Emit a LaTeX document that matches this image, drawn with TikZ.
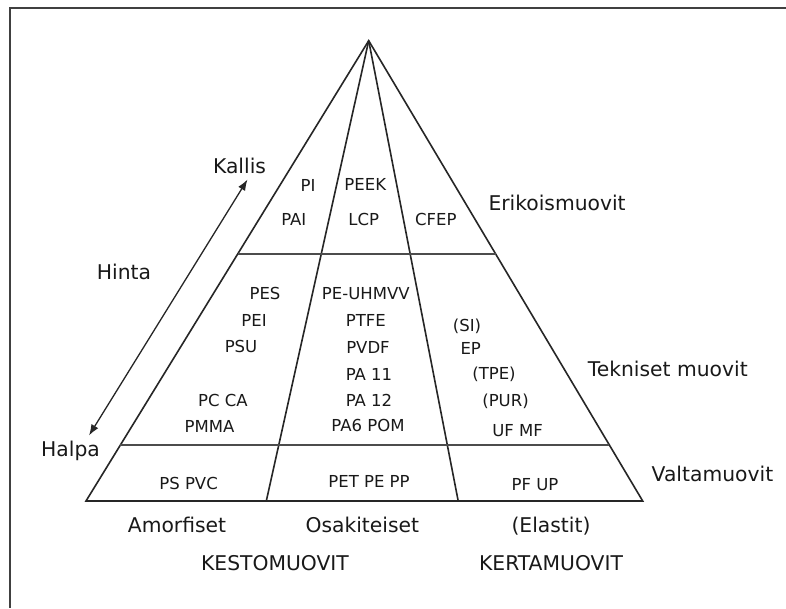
\documentclass[tikz,border=0pt]{standalone}
\usepackage{fontspec}
\setmainfont{DejaVu Sans}
\usetikzlibrary{calc,arrows.meta}
\begin{document}
\begin{tikzpicture}[x=1pt,y=-1pt,
  edge/.style={line width=1.6pt, draw=black!85},
  sep/.style={line width=1.8pt, draw=black!70},
  small/.style={font=\fontsize{16.5}{19}\selectfont, text=black!90, inner sep=0pt, anchor=base},
  big/.style={font=\fontsize{20.3}{24}\selectfont, text=black!90, inner sep=0pt, anchor=base},
  bigl/.style={big, anchor=base west},
]
\useasboundingbox (0,0) rectangle (786,608);
\fill[white] (0,0) rectangle (786,608);
\draw[line width=2.2pt, black!75] (786,8) -- (10,8) -- (10,608);

% pyramid geometry
\coordinate (A) at (368.7,40.7);
\coordinate (BL) at (86,501);
\coordinate (BR) at (642.7,501);
\coordinate (D1) at (266.3,501);
\coordinate (D2) at (458.2,501);
\coordinate (L1) at ($(A)!0.4634!(BL)$);
\coordinate (R1) at ($(A)!0.4634!(BR)$);
\coordinate (L2) at ($(A)!0.8783!(BL)$);
\coordinate (R2) at ($(A)!0.8783!(BR)$);

\draw[edge, line join=miter] (BL) -- (A) -- (BR) -- cycle;
\draw[edge] (A) -- (D1);
\draw[edge] (A) -- (D2);
\draw[sep] (L1) -- (R1);
\draw[sep] (L2) -- (R2);

% price arrow
\coordinate (P1) at (247.5,179.5);
\coordinate (P2) at (89,435.5);
\draw[line width=1.3pt, black!85, {Latex[length=11pt,width=8pt]}-{Latex[length=11pt,width=8pt]}] (P2) -- (P1);

% side labels
\node[big] (kallis) at (239.5,173.3) {Kallis};
\node[big] (hinta) at (124,279.5) {Hinta};
\node[big] (halpa) at (70.5,456.7) {Halpa};
\node[bigl] (eriko) at (488.3,210) {Erikoismuovit};
\node[bigl] (tekn) at (587.7,376) {Tekniset muovit};
\node[bigl] (valta) at (651.5,481) {Valtamuovit};

% bottom labels
\node[big] (amorf) at (177,532) {Amorfiset};
\node[big] (osak) at (362.3,532) {Osakiteiset};
\node[big] (elast) at (551,532) {(Elastit)};
\node[big] (kesto) at (275,570) {KESTOMUOVIT};
\node[big] (kerta) at (551,570) {KERTAMUOVIT};

% top section
\node[small] (pi) at (308,191) {PI};
\node[small] (peek) at (365.3,190.3) {PEEK};
\node[small] (pai) at (293.8,225.3) {PAI};
\node[small] (lcp) at (363.8,225.3) {LCP};
\node[small] (cfep) at (435.8,225.3) {CFEP};

% middle section
\node[small] (pes) at (265,299) {PES};
\node[small] (pei) at (254,326) {PEI};
\node[small] (psu) at (241,352.7) {PSU};
\node[small] (pcca) at (223,406.7) {PC CA};
\node[small] (pmma) at (209.6,432.7) {PMMA};
\node[small] (peuh) at (365.8,299) {PE-UHMVV};
\node[small] (ptfe) at (365.8,326.7) {PTFE};
\node[small] (pvdf) at (368,353) {PVDF};
\node[small] (pa11) at (369,380) {PA 11};
\node[small] (pa12) at (369,406) {PA 12};
\node[small] (pa6) at (368,431) {PA6 POM};
\node[small] (si) at (467,331) {(SI)};
\node[small] (ep) at (470.7,354) {EP};
\node[small] (tpe) at (494,379) {(TPE)};
\node[small] (pur) at (505.5,406.5) {(PUR)};
\node[small] (ufmf) at (517.6,436) {UF MF};

% bottom section
\node[small] (pspvc) at (188.6,489) {PS PVC};
\node[small] (petpe) at (369,487) {PET PE PP};
\node[small] (pfup) at (535,490) {PF UP};
\end{tikzpicture}
\end{document}
